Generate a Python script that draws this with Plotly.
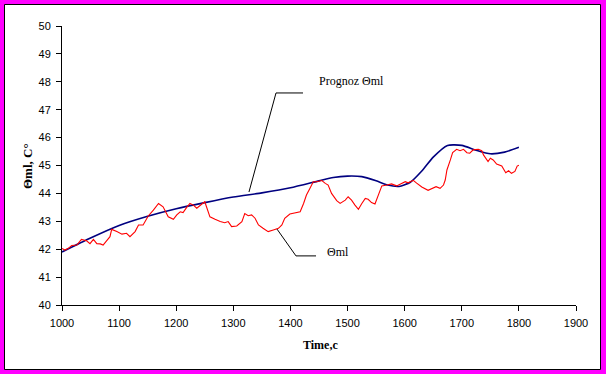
import plotly.graph_objects as go

# ---- data ----
prog_time = [1000, 1050, 1100, 1150, 1200, 1250, 1300, 1350, 1400, 1450, 1475, 1500,
             1525, 1550, 1570, 1590, 1610, 1630, 1650, 1675, 1700, 1725, 1750, 1775, 1800]
prog_theta = [41.9, 42.4, 42.85, 43.18, 43.45, 43.67, 43.87, 44.02, 44.2, 44.45, 44.57, 44.62,
              44.6, 44.45, 44.3, 44.25, 44.4, 44.8, 45.3, 45.72, 45.72, 45.55, 45.42, 45.48, 45.65]

meas_time = [1000, 1005, 1011, 1017, 1026, 1034, 1043, 1049, 1055, 1061, 1067, 1072, 1084, 1087,
             1096, 1105, 1113, 1119, 1128, 1134, 1142, 1151, 1160, 1169, 1177, 1186, 1195, 1201,
             1207, 1212, 1218, 1224, 1230, 1236, 1245, 1250, 1253, 1259, 1268, 1277, 1285, 1291,
             1297, 1306, 1315, 1320, 1326, 1332, 1338, 1344, 1352, 1361, 1370, 1379, 1385, 1390,
             1399, 1408, 1417, 1423, 1428, 1434, 1440, 1446, 1455, 1461, 1466, 1472, 1481, 1487,
             1496, 1501, 1507, 1513, 1519, 1525, 1531, 1536, 1542, 1548, 1554, 1560, 1569, 1577,
             1586, 1592, 1601, 1606, 1615, 1621, 1630, 1641, 1647, 1655, 1662, 1668, 1671, 1674,
             1680, 1684, 1691, 1697, 1703, 1709, 1714, 1720, 1729, 1735, 1738, 1742, 1746, 1750,
             1755, 1761, 1770, 1777, 1782, 1787, 1793, 1797, 1800]
meas_theta = [42.03, 41.97, 42.03, 42.13, 42.15, 42.35, 42.30, 42.20, 42.35, 42.20, 42.19, 42.15,
              42.45, 42.71, 42.63, 42.54, 42.57, 42.45, 42.63, 42.87, 42.87, 43.19, 43.40, 43.64,
              43.52, 43.16, 43.07, 43.23, 43.34, 43.31, 43.49, 43.64, 43.58, 43.47, 43.62, 43.70,
              43.52, 43.16, 43.07, 42.99, 42.95, 42.99, 42.81, 42.83, 42.99, 43.28, 43.20, 43.23,
              43.11, 42.87, 42.75, 42.63, 42.69, 42.75, 42.87, 43.11, 43.26, 43.31, 43.34, 43.64,
              43.94, 44.18, 44.42, 44.42, 44.46, 44.36, 44.30, 44.00, 43.74, 43.64, 43.76, 43.88,
              43.76, 43.58, 43.43, 43.64, 43.82, 43.79, 43.67, 43.62, 43.94, 44.27, 44.30, 44.34,
              44.27, 44.32, 44.42, 44.38, 44.47, 44.37, 44.23, 44.11, 44.17, 44.24, 44.18, 44.30,
              44.48, 44.84, 45.20, 45.46, 45.58, 45.53, 45.58, 45.46, 45.44, 45.56, 45.58, 45.53,
              45.38, 45.26, 45.14, 45.26, 45.20, 45.05, 44.98, 44.74, 44.81, 44.72, 44.79, 44.98,
              45.01]

x_ticks = [1000, 1100, 1200, 1300, 1400, 1500, 1600, 1700, 1800, 1900]
y_ticks = [40, 41, 42, 43, 44, 45, 46, 47, 48, 49, 50]

label_prog = "Prognoz Θml"
label_meas = "Θml"
x_title = "Time,c"
y_title = "Θml, C°"

# ---- layout geometry (pixels) ----
W, H = 606, 374
ML, MR, MT, MB = 62, 30, 26, 69
PW, PH = W - ML - MR, H - MT - MB


def px(xp):
    return (xp - ML) / PW


def py(yp):
    return (H - MB - yp) / PH


fig = go.Figure()
fig.add_trace(go.Scatter(x=prog_time, y=prog_theta, mode="lines",
                         line=dict(color="#000080", width=1.6, shape="spline", smoothing=0.6),
                         name=label_prog, hoverinfo="skip"))
fig.add_trace(go.Scatter(x=meas_time, y=meas_theta, mode="lines",
                         line=dict(color="#FF0000", width=1.1),
                         name=label_meas, hoverinfo="skip"))

serif = "Liberation Serif, Times New Roman, serif"
sans = "Liberation Sans, Arial, sans-serif"

shapes = [
    # white inner panel with black border on magenta background
    dict(type="rect", xref="paper", yref="paper", x0=px(4.5), x1=px(600.5), y0=py(369.5), y1=py(4.5),
         fillcolor="white", line=dict(color="black", width=1), layer="below"),
    # leader for Prognoz
    dict(type="path", xref="x", yref="y", path="M 1327.4 44.05 L 1374.7 47.6 L 1422 47.6",
         line=dict(color="black", width=1)),
    # leader for measured
    dict(type="path", xref="x", yref="y", path="M 1376.5 42.72 L 1409.7 41.76 L 1444.8 41.76",
         line=dict(color="black", width=1)),
]

annotations = [
    dict(x=1446.5, y=48.03, xref="x", yref="y", text=label_prog, showarrow=False,
         xanchor="left", yanchor="middle", font=dict(family=serif, size=12, color="black")),
    dict(x=1460.5, y=41.9, xref="x", yref="y", text=label_meas, showarrow=False,
         xanchor="left", yanchor="middle", font=dict(family=serif, size=12, color="black")),
    dict(x=px(320), y=py(345), xref="paper", yref="paper", text="<b>" + x_title + "</b>",
         showarrow=False, xanchor="center", yanchor="middle",
         font=dict(family=serif, size=12, color="black")),
    dict(x=px(27), y=py(166), xref="paper", yref="paper", text="<b>" + y_title + "</b>",
         showarrow=False, xanchor="center", yanchor="middle", textangle=-90,
         font=dict(family=serif, size=13, color="black")),
]

fig.update_layout(
    width=W, height=H,
    margin=dict(l=ML, r=MR, t=MT, b=MB, pad=0),
    paper_bgcolor="#FF00FF",
    plot_bgcolor="rgba(0,0,0,0)",
    showlegend=False,
    shapes=shapes,
    annotations=annotations,
    xaxis=dict(range=[1000, 1900], tickvals=x_ticks, ticks="outside", ticklen=5,
               tickcolor="black", showline=True, linecolor="black", linewidth=1,
               showgrid=False, zeroline=False, ticklabelstandoff=3,
               tickfont=dict(family=sans, size=11, color="black")),
    yaxis=dict(range=[40, 50], tickvals=y_ticks, ticks="outside", ticklen=5,
               tickcolor="black", showline=True, linecolor="black", linewidth=1,
               showgrid=False, zeroline=False, ticklabelstandoff=3,
               tickfont=dict(family=sans, size=11, color="black")),
)

fig.write_html("out.html",
               config={"displayModeBar": False, "staticPlot": True},
               post_script="document.body.style.margin='0';document.body.style.overflow='hidden';")
